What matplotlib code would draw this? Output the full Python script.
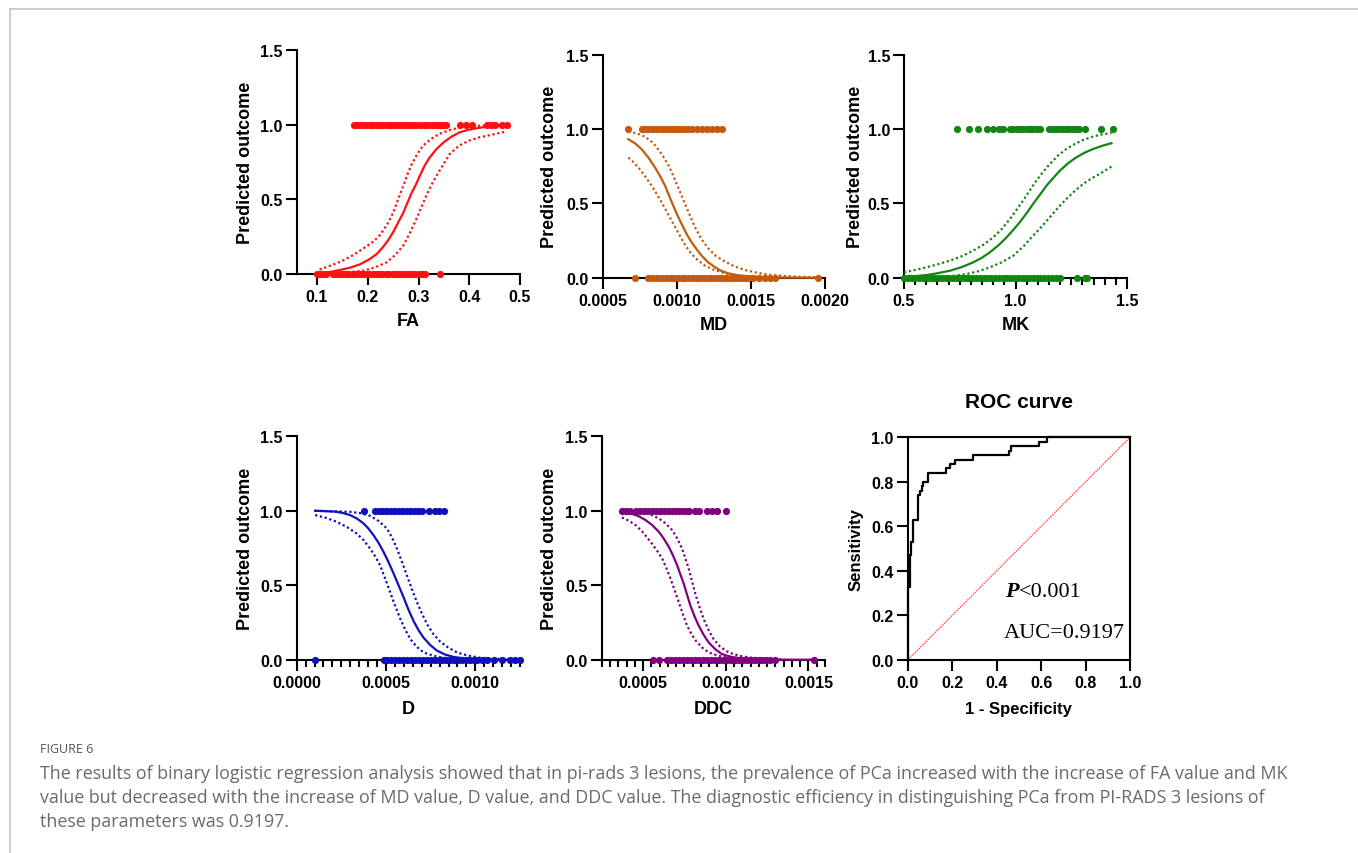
import numpy as np
import matplotlib
matplotlib.use("Agg")
import matplotlib.pyplot as plt
from matplotlib.lines import Line2D
from matplotlib.ticker import FixedLocator, MultipleLocator, FormatStrFormatter

# ---------------- data ----------------
# FA panel
FA_POS = [0.172, 0.178, 0.185, 0.191, 0.198, 0.204, 0.211, 0.218, 0.224, 0.230, 0.237, 0.244,
          0.250, 0.257, 0.263, 0.270, 0.277, 0.284, 0.291, 0.298, 0.305, 0.312, 0.319, 0.326,
          0.333, 0.339, 0.345, 0.349, 0.355, 0.382, 0.393, 0.405, 0.434, 0.443, 0.451, 0.464, 0.474]
FA_NEG = [0.100, 0.106, 0.112, 0.118, 0.132, 0.138, 0.145, 0.151, 0.158, 0.164, 0.171, 0.177,
          0.184, 0.190, 0.197, 0.203, 0.210, 0.216, 0.223, 0.229, 0.236, 0.242, 0.249, 0.255,
          0.262, 0.268, 0.275, 0.281, 0.288, 0.294, 0.301, 0.307, 0.312, 0.343]
FA_FIT_X = [0.102, 0.125, 0.145, 0.165, 0.185, 0.204, 0.218, 0.230, 0.240, 0.250, 0.260, 0.270,
            0.278, 0.286, 0.295, 0.303, 0.312, 0.322, 0.335, 0.349, 0.365, 0.382, 0.400, 0.421,
            0.445, 0.474]
FA_FIT_Y = [0.004, 0.013, 0.027, 0.042, 0.065, 0.100, 0.135, 0.180, 0.225, 0.280, 0.345, 0.410,
            0.475, 0.540, 0.600, 0.660, 0.725, 0.780, 0.835, 0.880, 0.920, 0.950, 0.967, 0.980,
            0.989, 0.995]
FA_HI_X = [0.105, 0.130, 0.151, 0.172, 0.191, 0.210, 0.224, 0.238, 0.250, 0.260, 0.270, 0.278,
           0.286, 0.297, 0.309, 0.325, 0.342, 0.365, 0.388, 0.415, 0.440, 0.474]
FA_HI_Y = [0.030, 0.060, 0.090, 0.128, 0.170, 0.215, 0.260, 0.330, 0.410, 0.500, 0.590, 0.665,
           0.730, 0.800, 0.860, 0.905, 0.940, 0.968, 0.985, 0.992, 0.995, 1.000]
FA_LO_X = [0.112, 0.150, 0.191, 0.215, 0.237, 0.255, 0.270, 0.283, 0.296, 0.306, 0.316, 0.326,
           0.336, 0.349, 0.362, 0.380, 0.401, 0.420, 0.441, 0.474]
FA_LO_Y = [0.000, 0.008, 0.022, 0.045, 0.078, 0.130, 0.190, 0.275, 0.370, 0.450, 0.530, 0.600,
           0.660, 0.735, 0.805, 0.860, 0.895, 0.915, 0.930, 0.955]

# MD panel
MD_POS = [0.000673, 0.000763, 0.000785, 0.000808, 0.000830, 0.000853, 0.000875, 0.000898, 0.000920,
          0.000943, 0.000965, 0.000988, 0.001010, 0.001033, 0.001055, 0.001078, 0.001100, 0.001134,
          0.001168, 0.001202, 0.001236, 0.001269, 0.001307]
MD_NEG = [0.000718, 0.000808, 0.000833, 0.000858, 0.000883, 0.000908, 0.000933, 0.000958, 0.000983,
          0.001008, 0.001033, 0.001058, 0.001083, 0.001108, 0.001133, 0.001158, 0.001183, 0.001208,
          0.001233, 0.001258, 0.001283, 0.001308, 0.001333, 0.001358, 0.001383, 0.001408, 0.001433,
          0.001458, 0.001483, 0.001517, 0.001555, 0.001595, 0.001629, 0.001663, 0.001950]
MD_FIT_X = [0.000673, 0.000718, 0.000763, 0.000808, 0.000853, 0.000890, 0.000921, 0.000945,
            0.000970, 0.001000, 0.001033, 0.001066, 0.001100, 0.001135, 0.001168, 0.001210,
            0.001258, 0.001300, 0.001348, 0.001410, 0.001483, 0.001560, 0.001663, 0.001800,
            0.001950]
MD_FIT_Y = [0.933, 0.905, 0.865, 0.810, 0.742, 0.680, 0.619, 0.560, 0.500, 0.430, 0.361, 0.295,
            0.238, 0.190, 0.148, 0.105, 0.070, 0.046, 0.029, 0.017, 0.009, 0.005, 0.002, 0.001,
            0.000]
MD_HI_X = [0.000673, 0.000718, 0.000760, 0.000786, 0.000820, 0.000853, 0.000900, 0.000943,
           0.000972, 0.001000, 0.001028, 0.001056, 0.001090, 0.001123, 0.001165, 0.001213,
           0.001265, 0.001326, 0.001390, 0.001460, 0.001540, 0.001618, 0.001750, 0.001950]
MD_HI_Y = [0.985, 0.975, 0.962, 0.948, 0.925, 0.892, 0.830, 0.758, 0.697, 0.630, 0.563, 0.496,
           0.415, 0.339, 0.262, 0.197, 0.145, 0.108, 0.076, 0.052, 0.034, 0.020, 0.010, 0.002]
MD_LO_X = [0.000673, 0.000708, 0.000741, 0.000786, 0.000831, 0.000865, 0.000898, 0.000932,
           0.000966, 0.001000, 0.001033, 0.001066, 0.001100, 0.001145, 0.001190, 0.001245,
           0.001303, 0.001370, 0.001438, 0.001520, 0.001618]
MD_LO_Y = [0.809, 0.778, 0.742, 0.683, 0.619, 0.563, 0.507, 0.445, 0.383, 0.320, 0.260, 0.205,
           0.159, 0.115, 0.081, 0.055, 0.036, 0.020, 0.009, 0.004, 0.000]

# MK panel
MK_POS = [0.736, 0.793, 0.833, 0.870, 0.897, 0.927, 0.945, 0.975, 0.990, 1.005, 1.020, 1.035,
          1.050, 1.065, 1.080, 1.095, 1.109, 1.151, 1.166, 1.181, 1.196, 1.211, 1.226, 1.241,
          1.256, 1.271, 1.286, 1.310, 1.385, 1.437]
MK_NEG = [0.500, 0.517, 0.534, 0.551, 0.568, 0.585, 0.602, 0.619, 0.636, 0.653, 0.670, 0.687,
          0.704, 0.721, 0.738, 0.755, 0.772, 0.789, 0.806, 0.823, 0.840, 0.857, 0.874, 0.891,
          0.908, 0.925, 0.942, 0.959, 0.976, 0.993, 1.010, 1.027, 1.044, 1.061, 1.078, 1.095,
          1.112, 1.129, 1.146, 1.163, 1.180, 1.199, 1.276, 1.310, 1.321]
MK_FIT_X = [0.500, 0.550, 0.601, 0.650, 0.706, 0.760, 0.810, 0.850, 0.885, 0.925, 0.960, 0.990,
            1.019, 1.050, 1.079, 1.110, 1.139, 1.170, 1.199, 1.235, 1.273, 1.310, 1.348, 1.390,
            1.430]
MK_FIT_Y = [0.004, 0.010, 0.018, 0.030, 0.047, 0.072, 0.103, 0.135, 0.171, 0.220, 0.272, 0.322,
            0.373, 0.435, 0.497, 0.560, 0.620, 0.673, 0.721, 0.770, 0.811, 0.842, 0.867, 0.889,
            0.906]
MK_HI_X = [0.500, 0.550, 0.601, 0.650, 0.706, 0.760, 0.810, 0.860, 0.900, 0.940, 0.975, 1.005,
           1.034, 1.064, 1.094, 1.124, 1.154, 1.190, 1.228, 1.265, 1.303, 1.350, 1.390, 1.430]
MK_HI_Y = [0.036, 0.052, 0.070, 0.090, 0.115, 0.145, 0.182, 0.225, 0.272, 0.330, 0.396, 0.458,
           0.519, 0.588, 0.654, 0.713, 0.766, 0.822, 0.867, 0.900, 0.928, 0.952, 0.966, 0.975]
MK_LO_X = [0.500, 0.580, 0.661, 0.720, 0.781, 0.835, 0.885, 0.940, 0.990, 1.035, 1.079, 1.118,
           1.154, 1.190, 1.228, 1.265, 1.303, 1.340, 1.378, 1.430]
MK_LO_Y = [0.000, 0.001, 0.004, 0.012, 0.025, 0.044, 0.070, 0.105, 0.148, 0.210, 0.283, 0.345,
           0.407, 0.470, 0.530, 0.583, 0.631, 0.668, 0.699, 0.748]

# D panel
D_POS = [0.000374, 0.000436, 0.000458, 0.000480, 0.000502, 0.000524, 0.000546, 0.000568, 0.000590,
         0.000612, 0.000634, 0.000656, 0.000678, 0.000701, 0.000738, 0.000776, 0.000794, 0.000826]
D_NEG = [0.000103, 0.000486, 0.000508, 0.000530, 0.000552, 0.000574, 0.000596, 0.000618, 0.000640,
         0.000662, 0.000684, 0.000706, 0.000728, 0.000750, 0.000772, 0.000794, 0.000816, 0.000838,
         0.000860, 0.000882, 0.000904, 0.000926, 0.000948, 0.000970, 0.000992, 0.001009, 0.001037,
         0.001065, 0.001103, 0.001150, 0.001196, 0.001224, 0.001249]
D_FIT_X = [0.000103, 0.000170, 0.000224, 0.000262, 0.000299, 0.000337, 0.000374, 0.000402,
           0.000430, 0.000458, 0.000486, 0.000514, 0.000542, 0.000570, 0.000598, 0.000626,
           0.000654, 0.000682, 0.000710, 0.000748, 0.000785, 0.000830, 0.000879, 0.000940,
           0.001009, 0.001120, 0.001252]
D_FIT_Y = [1.000, 0.997, 0.993, 0.984, 0.971, 0.948, 0.915, 0.880, 0.836, 0.785, 0.724, 0.655,
           0.580, 0.500, 0.420, 0.335, 0.260, 0.198, 0.148, 0.098, 0.061, 0.035, 0.018, 0.009,
           0.004, 0.001, 0.000]
D_HI_X = [0.000103, 0.000299, 0.000360, 0.000411, 0.000460, 0.000505, 0.000533, 0.000561,
          0.000589, 0.000617, 0.000645, 0.000673, 0.000701, 0.000729, 0.000765, 0.000804,
          0.000850, 0.000897, 0.000960, 0.001028, 0.001140, 0.001252]
D_HI_Y = [1.000, 0.993, 0.983, 0.966, 0.930, 0.881, 0.822, 0.746, 0.658, 0.566, 0.472, 0.387,
          0.310, 0.240, 0.172, 0.121, 0.080, 0.049, 0.027, 0.013, 0.005, 0.002]
D_LO_X = [0.000103, 0.000165, 0.000224, 0.000280, 0.000336, 0.000375, 0.000411, 0.000440,
          0.000467, 0.000495, 0.000523, 0.000551, 0.000580, 0.000608, 0.000636, 0.000672,
          0.000710, 0.000765, 0.000822, 0.000900, 0.000972]
D_LO_Y = [0.971, 0.952, 0.926, 0.892, 0.847, 0.802, 0.746, 0.693, 0.634, 0.545, 0.454, 0.362,
          0.274, 0.200, 0.139, 0.087, 0.049, 0.026, 0.013, 0.004, 0.000]

# DDC panel
DDC_POS = [0.000372, 0.000396, 0.000420, 0.000456, 0.000480, 0.000504, 0.000528, 0.000552,
           0.000576, 0.000600, 0.000624, 0.000648, 0.000672, 0.000696, 0.000720, 0.000744,
           0.000768, 0.000776, 0.000812, 0.000836, 0.000886, 0.000916, 0.000946, 0.001000]
DDC_NEG = [0.000560, 0.000596, 0.000646, 0.000670, 0.000694, 0.000718, 0.000742, 0.000766,
           0.000790, 0.000814, 0.000838, 0.000862, 0.000886, 0.000910, 0.000934, 0.000958,
           0.000982, 0.001006, 0.001030, 0.001054, 0.001078, 0.001102, 0.001126, 0.001150,
           0.001174, 0.001198, 0.001222, 0.001246, 0.001270, 0.001296, 0.001536]
DDC_FIT_X = [0.000372, 0.000436, 0.000476, 0.000516, 0.000556, 0.000596, 0.000626, 0.000656,
             0.000681, 0.000706, 0.000726, 0.000746, 0.000766, 0.000786, 0.000811, 0.000836,
             0.000866, 0.000896, 0.000936, 0.000976, 0.001036, 0.001096, 0.001196, 0.001296,
             0.001536]
DDC_FIT_Y = [0.989, 0.978, 0.962, 0.937, 0.903, 0.858, 0.812, 0.757, 0.700, 0.634, 0.572, 0.510,
             0.437, 0.364, 0.292, 0.229, 0.168, 0.117, 0.071, 0.038, 0.018, 0.009, 0.003, 0.000,
             0.000]
DDC_HI_X = [0.000372, 0.000496, 0.000546, 0.000596, 0.000636, 0.000676, 0.000706, 0.000736,
            0.000756, 0.000776, 0.000796, 0.000816, 0.000841, 0.000866, 0.000896, 0.000926,
            0.000966, 0.001016, 0.001086, 0.001156, 0.001356]
DDC_HI_Y = [1.000, 0.989, 0.974, 0.948, 0.915, 0.870, 0.816, 0.746, 0.680, 0.611, 0.527, 0.443,
            0.355, 0.274, 0.200, 0.139, 0.087, 0.049, 0.025, 0.013, 0.000]
DDC_LO_X = [0.000372, 0.000416, 0.000456, 0.000501, 0.000546, 0.000581, 0.000616, 0.000641,
            0.000666, 0.000691, 0.000716, 0.000741, 0.000766, 0.000796, 0.000826, 0.000861,
            0.000896, 0.000956, 0.001016, 0.001156]
DDC_LO_Y = [0.955, 0.932, 0.903, 0.853, 0.791, 0.738, 0.679, 0.615, 0.544, 0.466, 0.387, 0.305,
            0.229, 0.165, 0.117, 0.078, 0.049, 0.026, 0.013, 0.000]

# ROC curve (vertices)
ROC_FPR = [0.0, 0.0, 0.003, 0.003, 0.010, 0.010, 0.016, 0.016, 0.022, 0.022, 0.045, 0.045,
           0.055, 0.055, 0.063, 0.063, 0.070, 0.070, 0.093, 0.093, 0.172, 0.172, 0.190, 0.190,
           0.213, 0.213, 0.295, 0.295, 0.457, 0.457, 0.463, 0.463, 0.590, 0.590, 0.625, 0.625, 1.0]
ROC_TPR = [0.0, 0.28, 0.28, 0.33, 0.33, 0.47, 0.47, 0.53, 0.53, 0.63, 0.63, 0.74,
           0.74, 0.76, 0.76, 0.78, 0.78, 0.80, 0.80, 0.84, 0.84, 0.86, 0.86, 0.88,
           0.88, 0.90, 0.90, 0.92, 0.92, 0.94, 0.94, 0.96, 0.96, 0.98, 0.98, 1.00, 1.00]
ROC_P_TEXT = "<0.001"
ROC_AUC_TEXT = "AUC=0.9197"

Y_TICKS = [0.0, 0.5, 1.0, 1.5]
Y_TICK_LABELS = ["0.0", "0.5", "1.0", "1.5"]

CAPTION_HEAD = "FIGURE 6"
CAPTION_LINES = [
    "The results of binary logistic regression analysis showed that in pi-rads 3 lesions, the prevalence of PCa increased with the increase of FA value and MK",
    "value but decreased with the increase of MD value, D value, and DDC value. The diagnostic efficiency in distinguishing PCa from PI-RADS 3 lesions of",
    "these parameters was 0.9197.",
]

# ---------------- styling ----------------
plt.rcParams["font.family"] = ["Liberation Sans", "DejaVu Sans"]
plt.rcParams["font.weight"] = "bold"
plt.rcParams["axes.labelweight"] = "bold"

W, H = 1358, 854
fig = plt.figure(figsize=(W / 100, H / 100), dpi=100)
fig.patch.set_facecolor("white")

TICK_FS = 11.5
LABEL_FS = 13


def add_ax(l, t, r, b):
    return fig.add_axes([l / W, 1 - b / H, (r - l) / W, (b - t) / H])


def style_axes(ax, box=False):
    for s in ["left", "bottom", "top", "right"]:
        ax.spines[s].set_linewidth(1.5)
        ax.spines[s].set_color("black")
    if not box:
        ax.spines["top"].set_visible(False)
        ax.spines["right"].set_visible(False)
    ax.tick_params(which="major", direction="out", length=8, width=1.5, labelsize=TICK_FS,
                   color="black")
    ax.tick_params(axis="x", which="major", pad=3)
    ax.tick_params(axis="y", which="major", pad=2)
    ax.tick_params(which="minor", direction="out", length=5, width=1.5, color="black")
    ax.patch.set_alpha(0)


def place_labels(ax, rect, xlabel, ylabel, xlab_y, ylab_x, fs=LABEL_FS):
    l, t, r, b = rect
    ax.set_xlabel(xlabel, fontsize=fs, fontweight="bold")
    ax.set_ylabel(ylabel, fontsize=fs, fontweight="bold")
    ax.xaxis.set_label_coords(0.5, -(xlab_y - b) / (b - t))
    ax.yaxis.set_label_coords((ylab_x - l) / (r - l), 0.5)
    ax.xaxis.label.set_va("center")
    ax.yaxis.label.set_va("center")
    ax.yaxis.label.set_ha("center")


def logistic_panel(rect, color, pos, neg, fx, fy, hx, hy, lx, ly, xlim, xticks, xfmt,
                   xlabel, xlab_y, ylab_x, minor=None):
    ax = add_ax(*rect)
    style_axes(ax)
    ax.plot(fx, fy, "-", color=color, lw=1.6, clip_on=False, zorder=3)
    ax.plot(hx, hy, linestyle=(0, (1, 1.2)), color=color, lw=1.6, clip_on=False, zorder=3)
    ax.plot(lx, ly, linestyle=(0, (1, 1.2)), color=color, lw=1.6, clip_on=False, zorder=3)
    ax.plot(pos, np.ones(len(pos)), "o", color=color, ms=5.2, mew=0, clip_on=False, zorder=4)
    ax.plot(neg, np.zeros(len(neg)), "o", color=color, ms=5.2, mew=0, clip_on=False, zorder=4)
    ax.set_xlim(*xlim)
    ax.set_ylim(0, 1.5)
    ax.xaxis.set_major_locator(FixedLocator(xticks))
    ax.xaxis.set_major_formatter(FormatStrFormatter(xfmt))
    if minor is not None:
        ax.xaxis.set_minor_locator(MultipleLocator(minor))
    ax.set_yticks(Y_TICKS)
    ax.set_yticklabels(Y_TICK_LABELS)
    place_labels(ax, rect, xlabel, "Predicted outcome", xlab_y, ylab_x)
    return ax


logistic_panel((296.7, 51, 520, 275), "#ff1010", FA_POS, FA_NEG, FA_FIT_X, FA_FIT_Y,
               FA_HI_X, FA_HI_Y, FA_LO_X, FA_LO_Y, (0.06, 0.5), [0.1, 0.2, 0.3, 0.4, 0.5],
               "%.1f", "FA", 321.7, 245)
logistic_panel((602.7, 56, 825, 278.7), "#c55a0c", MD_POS, MD_NEG, MD_FIT_X, MD_FIT_Y,
               MD_HI_X, MD_HI_Y, MD_LO_X, MD_LO_Y, (0.0005, 0.0020),
               [0.0005, 0.0010, 0.0015, 0.0020], "%.4f", "MD", 325, 550)
logistic_panel((904, 56, 1127, 278.7), "#128512", MK_POS, MK_NEG, MK_FIT_X, MK_FIT_Y,
               MK_HI_X, MK_HI_Y, MK_LO_X, MK_LO_Y, (0.5, 1.5), [0.5, 1.0, 1.5],
               "%.1f", "MK", 326, 855, minor=0.05)
logistic_panel((296.7, 437.3, 520, 660.7), "#1010bb", D_POS, D_NEG, D_FIT_X, D_FIT_Y,
               D_HI_X, D_HI_Y, D_LO_X, D_LO_Y, (0.0, 0.00125), [0.0, 0.0005, 0.0010],
               "%.4f", "D", 710, 245, minor=0.00005)
logistic_panel((601.7, 437.3, 825, 660.7), "#800080", DDC_POS, DDC_NEG, DDC_FIT_X, DDC_FIT_Y,
               DDC_HI_X, DDC_HI_Y, DDC_LO_X, DDC_LO_Y, (0.00025, 0.0016),
               [0.0005, 0.0010, 0.0015], "%.4f", "DDC", 710, 550, minor=0.00005)

# ROC panel
roc_rect = (907.7, 438.3, 1130, 661)
axr = add_ax(*roc_rect)
style_axes(axr, box=True)
axr.plot([0, 1], [0, 1], color="#ff3b3b", lw=0.8, linestyle=(0, (1.5, 0.8)), zorder=2)
axr.plot(ROC_FPR, ROC_TPR, color="black", lw=1.6, zorder=3, clip_on=False)
axr.set_xlim(0, 1)
axr.set_ylim(0, 1)
ticks = [0.0, 0.2, 0.4, 0.6, 0.8, 1.0]
axr.set_xticks(ticks)
axr.set_yticks(ticks)
axr.xaxis.set_major_formatter(FormatStrFormatter("%.1f"))
axr.yaxis.set_major_formatter(FormatStrFormatter("%.1f"))
place_labels(axr, roc_rect, "1 - Specificity", "Sensitivity", 710, 856, fs=12)
axr.text(0.5, 1 + (438.3 - 403) / (661 - 438.3), "ROC curve", transform=axr.transAxes,
         ha="center", va="center", fontsize=15, fontweight="bold")
serif = ["Liberation Serif", "DejaVu Serif"]
tp = axr.text(0.44, 0.31, "P", fontsize=16, family=serif, fontweight="bold", fontstyle="italic",
              ha="left", va="center")
axr.annotate(ROC_P_TEXT, xy=(1, 0), xycoords=tp, ha="left", va="bottom", fontsize=16,
             family=serif, fontweight="normal")
axr.text(0.43, 0.124, ROC_AUC_TEXT, fontsize=16, family=serif, fontweight="normal",
         ha="left", va="center")

# frame lines of the page
fig.add_artist(Line2D([9.5 / W, 1.0], [1 - 10 / H, 1 - 10 / H], transform=fig.transFigure,
                      color="#c4c4c4", lw=1.2))
fig.add_artist(Line2D([9.5 / W, 9.5 / W], [0.0, 1 - 10 / H], transform=fig.transFigure,
                      color="#c4c4c4", lw=1.2))

# caption
cap_font = ["Open Sans", "DejaVu Sans"]
fig.text(40 / W, 1 - 750 / H, CAPTION_HEAD, fontsize=9, family=cap_font, fontweight="normal",
         color="#555555", ha="left", va="center")
renderer = fig.canvas.get_renderer()
probe = fig.text(0, 0, CAPTION_LINES[0], fontsize=11, family=cap_font, fontweight="normal")
w = probe.get_window_extent(renderer).width
probe.remove()
cap_fs = 11 * 1250 / w
for i, line in enumerate(CAPTION_LINES):
    fig.text(40 / W, 1 - (774 + 24 * i) / H, line, fontsize=cap_fs, family=cap_font,
             fontweight="normal", color="#6a6a6a", ha="left", va="center")

fig.savefig("out.png", dpi=100, facecolor="white")
